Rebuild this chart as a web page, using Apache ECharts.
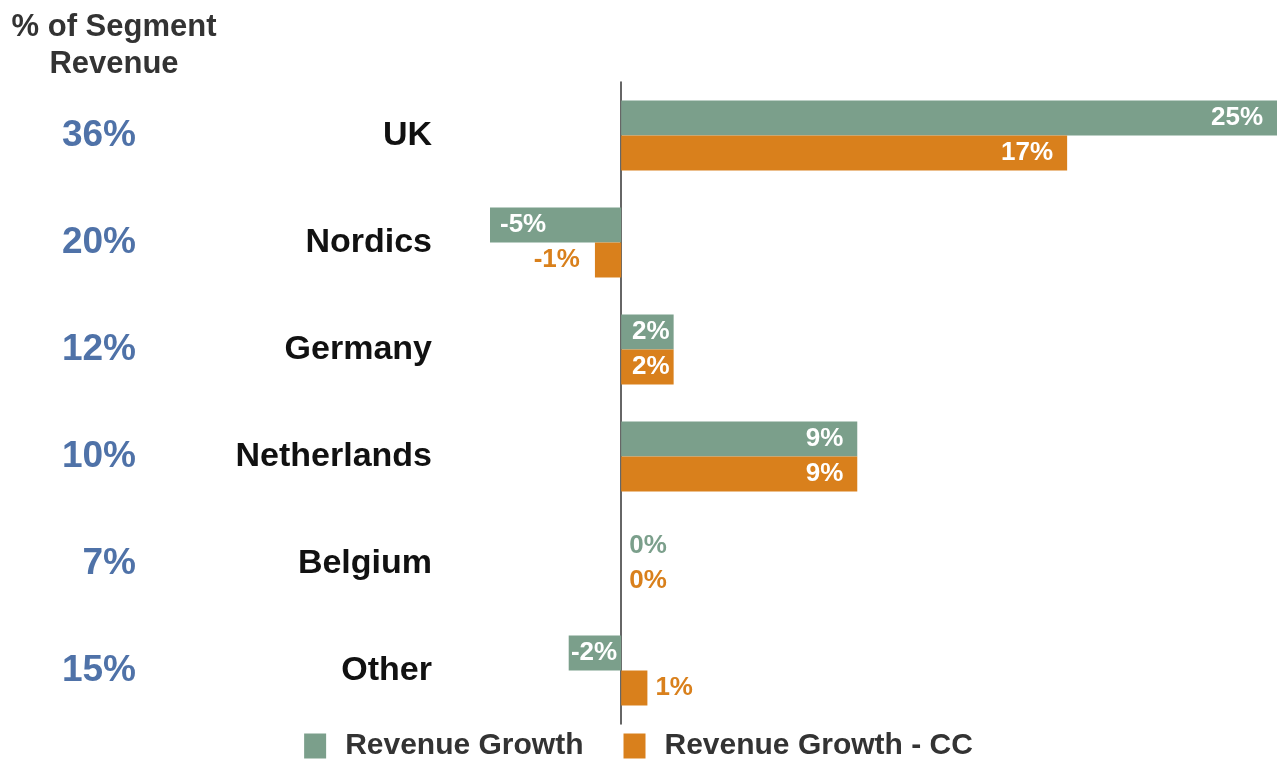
<!DOCTYPE html>
<html>
<head>
<meta charset="utf-8">
<script src="https://cdn.jsdelivr.net/npm/echarts@6/dist/echarts.min.js"></script>
<style>
  html, body { margin: 0; padding: 0; background: #fff; }
  #chart { width: 1277px; height: 762px; }
</style>
</head>
<body>
<div id="chart"></div>
<script>
const categories = ['UK', 'Nordics', 'Germany', 'Netherlands', 'Belgium', 'Other']
const segmentShare = ['36%', '20%', '12%', '10%', '7%', '15%']
const revenueGrowth = [25, -5, 2, 9, 0, -2]
const revenueGrowthCC = [17, -1, 2, 9, 0, 1]

const GREEN = '#7b9f8b'
const ORANGE = '#d9801c'
const FONT = 'Liberation Sans, Arial, sans-serif'

// label placement per bar, depending on sign and room inside the bar
function labelFor(value, color, narrow) {
  const base = {
    show: true,
    fontFamily: FONT,
    fontWeight: 'bold',
    fontSize: 26,
    formatter: p => p.value + '%'
  }
  if (value === 0 || (narrow && value > 0)) {
    return Object.assign(base, { position: 'right', distance: 8, color: color })
  }
  if (narrow && value < 0) {
    return Object.assign(base, { position: 'left', distance: 15, color: color })
  }
  if (value < -3) {
    return Object.assign(base, { position: 'insideLeft', distance: 10, color: '#fff' })
  }
  const d = Math.abs(value) <= 2 ? 4 : 14
  return Object.assign(base, { position: 'insideRight', distance: d, color: '#fff' })
}

const chart = echarts.init(document.getElementById('chart'))

const option = {
  animation: false,
  backgroundColor: '#fff',
  title: {
    text: '% of Segment\nRevenue',
    left: 109,
    top: 4,
    textAlign: 'center',
    textStyle: {
      fontFamily: FONT,
      fontSize: 31,
      fontWeight: 'bold',
      color: '#333',
      lineHeight: 37
    }
  },
  legend: {
    top: 726,
    left: 'center',
    icon: 'rect',
    itemWidth: 22,
    itemHeight: 25,
    itemGap: 40,
    textStyle: {
      fontFamily: FONT,
      fontSize: 30,
      fontWeight: 'bold',
      color: '#333',
      padding: [0, 0, 0, 14]
    },
    data: ['Revenue Growth', 'Revenue Growth - CC']
  },
  grid: {
    left: 490,
    right: 0,
    top: 82,
    bottom: 38
  },
  xAxis: {
    type: 'value',
    min: -5,
    max: 25,
    show: false,
    splitLine: { show: false }
  },
  yAxis: [
    {
      type: 'category',
      data: categories,
      inverse: true,
      position: 'left',
      axisLine: { show: true, onZero: true, lineStyle: { color: '#333', width: 1.5 } },
      axisTick: { show: false },
      axisLabel: { show: false }
    },
    {
      type: 'category',
      data: categories,
      inverse: true,
      position: 'left',
      axisLine: { show: false, onZero: false },
      axisTick: { show: false },
      axisLabel: {
        margin: 58,
        fontFamily: FONT,
        fontSize: 34,
        fontWeight: 'bold',
        color: '#111'
      }
    },
    {
      type: 'category',
      data: segmentShare,
      inverse: true,
      position: 'left',
      axisLine: { show: false, onZero: false },
      axisTick: { show: false },
      axisLabel: {
        margin: 354,
        fontFamily: FONT,
        fontSize: 37,
        fontWeight: 'bold',
        color: '#4f72a8'
      }
    }
  ],
  series: [
    {
      name: 'Revenue Growth',
      type: 'bar',
      yAxisIndex: 0,
      barWidth: 35,
      barGap: '0%',
      itemStyle: { color: GREEN },
      data: revenueGrowth.map(v => ({ value: v, label: labelFor(v, GREEN, false) }))
    },
    {
      name: 'Revenue Growth - CC',
      type: 'bar',
      yAxisIndex: 0,
      barWidth: 35,
      barGap: '0%',
      itemStyle: { color: ORANGE },
      data: revenueGrowthCC.map(v => ({ value: v, label: labelFor(v, ORANGE, Math.abs(v) < 2) }))
    }
  ]
}

chart.setOption(option)
</script>
</body>
</html>
